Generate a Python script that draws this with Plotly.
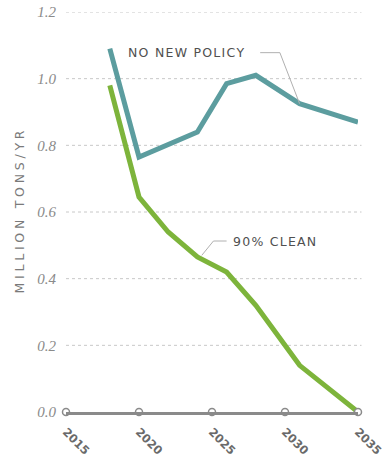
import plotly.graph_objects as go

# Annual emissions, million tons per year
years_no_policy = [2018, 2020, 2024, 2026, 2028, 2031, 2035]
no_new_policy = [1.09, 0.765, 0.84, 0.985, 1.01, 0.925, 0.87]

years_clean = [2018, 2020, 2022, 2024, 2026, 2028, 2031, 2035]
clean_90 = [0.98, 0.645, 0.54, 0.465, 0.42, 0.32, 0.14, 0.0]

x_ticks = [2015, 2020, 2025, 2030, 2035]
y_ticks = [0.0, 0.2, 0.4, 0.6, 0.8, 1.0, 1.2]
y_tick_labels = ["0.0", "0.2", "0.4", "0.6", "0.8", "1.0", "1.2"]

TEAL = "#5c9d9f"
GREEN = "#7db43b"
LEADER = "#b0b0b0"


def spaced(text, gap):
    """Spread the letters of a label apart with narrow space characters."""
    return gap.join(text)


fig = go.Figure()

# dashed grid lines (all but the baseline)
for v in y_ticks[1:]:
    fig.add_shape(type="line", xref="paper", yref="y", x0=0, x1=1.012, y0=v, y1=v,
                  line=dict(color="#c8c8c8", width=1, dash="3px,3px"), layer="below")

fig.add_trace(go.Scatter(x=years_no_policy, y=no_new_policy, mode="lines",
                         line=dict(color=TEAL, width=5), hoverinfo="skip"))
fig.add_trace(go.Scatter(x=years_clean, y=clean_90, mode="lines",
                         line=dict(color=GREEN, width=5), hoverinfo="skip"))

# open circles on the baseline at every tick
fig.add_trace(go.Scatter(x=x_ticks, y=[0] * len(x_ticks), mode="markers",
                         marker=dict(symbol="circle", size=7, color="white",
                                     line=dict(color="#8a8a8a", width=1.5)),
                         cliponaxis=False, hoverinfo="skip"))

# leader lines from labels to the series
fig.add_shape(type="path", xref="x", yref="y",
              path=f"M 2028.3,1.078 L 2029.65,1.078 L {years_no_policy[5]},{no_new_policy[5]}",
              line=dict(color=LEADER, width=1))
fig.add_shape(type="path", xref="x", yref="y",
              path="M 2026.0,0.513 L 2025.1,0.513 L 2024.3,0.47",
              line=dict(color=LEADER, width=1))

label_font = dict(family="DejaVu Sans", size=12.5, color="#505050")
fig.add_annotation(x=2019.1, y=1.078, xref="x", yref="y",
                   text=spaced("NO NEW POLICY", "\u200a"),
                   showarrow=False, xanchor="left", yanchor="middle", font=label_font)
fig.add_annotation(x=2026.3, y=0.513, xref="x", yref="y",
                   text=spaced("90% CLEAN", "\u200a"),
                   showarrow=False, xanchor="left", yanchor="middle", font=label_font)

fig.update_layout(
    width=385, height=465,
    margin=dict(l=66, r=27, t=12, b=53),
    paper_bgcolor="white", plot_bgcolor="white",
    showlegend=False,
    xaxis=dict(range=[2015, 2035], tickvals=x_ticks, ticktext=[str(t) for t in x_ticks],
               tickangle=45, showgrid=False, zeroline=False, automargin=False,
               showline=True, linecolor="#8a8a8a", linewidth=2.5,
               ticks="", ticklen=0, ticklabelstandoff=6, ticklabeloverflow="allow",
               tickfont=dict(family="DejaVu Sans", size=11.5, color="#6a6a6a", weight="bold")),
    yaxis=dict(range=[0, 1.2], tickvals=y_ticks, ticktext=y_tick_labels,
               showgrid=False, zeroline=False, showline=False, ticks="", automargin=False,
               ticklabelstandoff=9,
               tickfont=dict(family="Liberation Serif", size=15, color="#8a8a8a", style="italic"),
               title=dict(text=spaced("MILLION TONS/YR", "\u2009\u200a"), standoff=9,
                          font=dict(family="DejaVu Sans", size=12.5, color="#7a7a7a"))),
)

fig.write_html("out.html")
